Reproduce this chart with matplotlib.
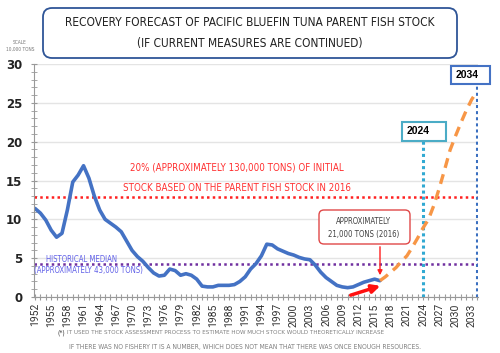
import matplotlib.pyplot as plt
from matplotlib.patches import FancyBboxPatch, Rectangle

# 태평양 참다랑어 친어 자원량 (단위: 만 톤)
years = list(range(1952, 2017))
stock = [11.4, 10.8, 9.9, 8.6, 7.7, 8.2, 11.2, 14.8, 15.7, 16.9,
         15.3, 13.0, 11.2, 10.0, 9.5, 9.0, 8.4, 7.2, 6.0, 5.2,
         4.6, 3.8, 3.1, 2.7, 2.8, 3.6, 3.4, 2.8, 3.0, 2.8,
         2.3, 1.4, 1.3, 1.3, 1.5, 1.5, 1.5, 1.6, 2.0, 2.6,
         3.6, 4.3, 5.3, 6.8, 6.7, 6.2, 5.9, 5.6, 5.4, 5.1,
         4.9, 4.8, 4.1, 3.2, 2.5, 2.0, 1.5, 1.3, 1.2, 1.3,
         1.6, 1.9, 2.1, 2.3, 2.1]

# 현재 조치 유지 시 예측
proj_years = list(range(2016, 2035))
proj_stock = [2.1, 2.6, 3.2, 3.8, 4.6, 5.3, 6.4, 7.6, 8.9, 10.0,
              11.8, 14.0, 16.4, 18.9, 20.7, 22.4, 24.0, 25.4, 26.5]

target_level = 12.9   # 초기 자원량의 20%
median_level = 4.3    # 역사적 중앙값
marker_years = [2024, 2034]
marker_tops = [20.2, 27.5]

NARROW = dict(family="DejaVu Sans", fontstretch="condensed")

fig = plt.figure(figsize=(5, 3.53), dpi=100)
ax = fig.add_axes([34 / 500, 1 - 297 / 353, 444 / 500, 233 / 353])
ax.set_xlim(1951.81, 2034.19)
ax.set_ylim(0, 30)

# 격자, 축
for s in ["top", "right"]:
    ax.spines[s].set_visible(False)
ax.spines["left"].set_color("#999999")
ax.spines["bottom"].set_color("#999999")
ax.set_yticks(range(0, 31, 5))
ax.set_yticks(range(0, 31), minor=True)
ax.set_xticks(range(1952, 2035))
ax.set_xticklabels([str(y) if (y - 1952) % 3 == 0 else "" for y in range(1952, 2035)],
                   rotation=90, fontsize=7.5, color="#333333", family="Roboto")
ax.tick_params(axis="y", which="both", direction="inout", length=5, color="#999999",
               labelsize=8.5, labelcolor="#222222", pad=6)
ax.tick_params(axis="y", which="minor", length=4)
ax.tick_params(axis="x", direction="inout", length=5, color="#999999", pad=2)
for lab in ax.get_yticklabels():
    lab.set_fontweight("bold")
ax.grid(axis="y", color="#e4e4e4", lw=1)
ax.set_axisbelow(True)

# 기준선
ax.axhline(target_level, color="#ff2020", lw=1.8, ls=(0, (1, 1.3)))
ax.axhline(median_level, color="#7030a0", lw=1.8, ls=(0, (1, 1.3)))
ax.vlines(marker_years[0], 0, marker_tops[0], color="#31a9d2", lw=2.2, ls=(0, (1, 1)))
ax.vlines(marker_years[1], 0, marker_tops[1], color="#3a6fc0", lw=2.2, ls=(0, (1, 1)))

# 자원량 곡선
ax.plot(years, stock, color="#4472c4", lw=2.6, solid_joinstyle="round", solid_capstyle="round")
ax.plot(proj_years, proj_stock, color="#f79646", lw=2.4, ls=(0, (3, 2)))

# 주석용 오버레이 (픽셀 좌표)
ov = fig.add_axes([0, 0, 1, 1])
ov.set_xlim(0, 500)
ov.set_ylim(353, 0)
ov.axis("off")
ov.patch.set_alpha(0)

ov.add_patch(FancyBboxPatch((43, 8), 414, 50, boxstyle="round,pad=0,rounding_size=9",
                            ec="#2f5597", fc="white", lw=1.3))
ov.text(250, 23, "RECOVERY FORECAST OF PACIFIC BLUEFIN TUNA PARENT FISH STOCK",
        ha="center", va="center", fontsize=8.6, color="#222222", **NARROW)
ov.text(250, 43, "(IF CURRENT MEASURES ARE CONTINUED)",
        ha="center", va="center", fontsize=8.6, color="#222222", **NARROW)

ov.text(20, 42, "SCALE", ha="center", va="center", fontsize=3.5, color="#777777", **NARROW)
ov.text(20, 49, "10,000 TONS", ha="center", va="center", fontsize=3.5, color="#777777", **NARROW)

ov.text(237, 168, "20% (APPROXIMATELY 130,000 TONS) OF INITIAL",
        ha="center", va="center", fontsize=7, color="#ff3030", **NARROW)
ov.text(237, 188, "STOCK BASED ON THE PARENT FISH STOCK IN 2016",
        ha="center", va="center", fontsize=7, color="#ff3030", **NARROW)

ov.text(82, 259, "HISTORICAL MEDIAN", ha="center", va="center",
        fontsize=5.6, color="#6060e8", **NARROW)
ov.text(88, 271, "(APPROXIMATELY 43,000 TONS)", ha="center", va="center",
        fontsize=5.6, color="#6060e8", **NARROW)

ov.add_patch(FancyBboxPatch((319, 210), 91, 34, boxstyle="round,pad=0,rounding_size=5",
                            ec="#e04848", fc="white", lw=1))
ov.text(364, 222, "APPROXIMATELY", ha="center", va="center",
        fontsize=5.6, color="#404040", **NARROW)
ov.text(364, 235, "21,000 TONS (2016)", ha="center", va="center",
        fontsize=5.6, color="#404040", **NARROW)
ov.annotate("", xy=(380, 278), xytext=(380, 244),
            arrowprops=dict(arrowstyle="-|>", color="#ff2020", lw=1, mutation_scale=7))
ov.annotate("", xy=(383, 285), xytext=(348, 296),
            arrowprops=dict(arrowstyle="-|>", color="#ff1010", lw=2.5, mutation_scale=12))

ov.add_patch(Rectangle((402, 122), 44, 19, ec="#4bacc6", fc="white", lw=1.5))
ov.text(418, 131.5, "2024", ha="center", va="center", fontsize=7.5,
        fontweight="bold", family="Liberation Sans", color="black")
ov.add_patch(Rectangle((451, 66), 39, 18, ec="#4472c4", fc="white", lw=1.5))
ov.text(467, 75, "2034", ha="center", va="center", fontsize=7.5,
        fontweight="bold", family="Liberation Sans", color="black")

ov.text(58, 333, "(*)", ha="left", va="center", fontsize=4.8, color="#333333", **NARROW)
ov.text(67, 333, "IT USED THE STOCK ASSESSMENT PROCESS TO ESTIMATE HOW MUCH STOCK WOULD THEORETICALLY INCREASE",
        ha="left", va="center", fontsize=4.5, color="#808080", **NARROW)
ov.text(69, 347, "IF THERE WAS NO FISHERY IT IS A NUMBER, WHICH DOES NOT MEAN THAT THERE WAS ONCE ENOUGH RESOURCES.",
        ha="left", va="center", fontsize=4.85, color="#808080", **NARROW)

fig.savefig("out.png", dpi=100)
